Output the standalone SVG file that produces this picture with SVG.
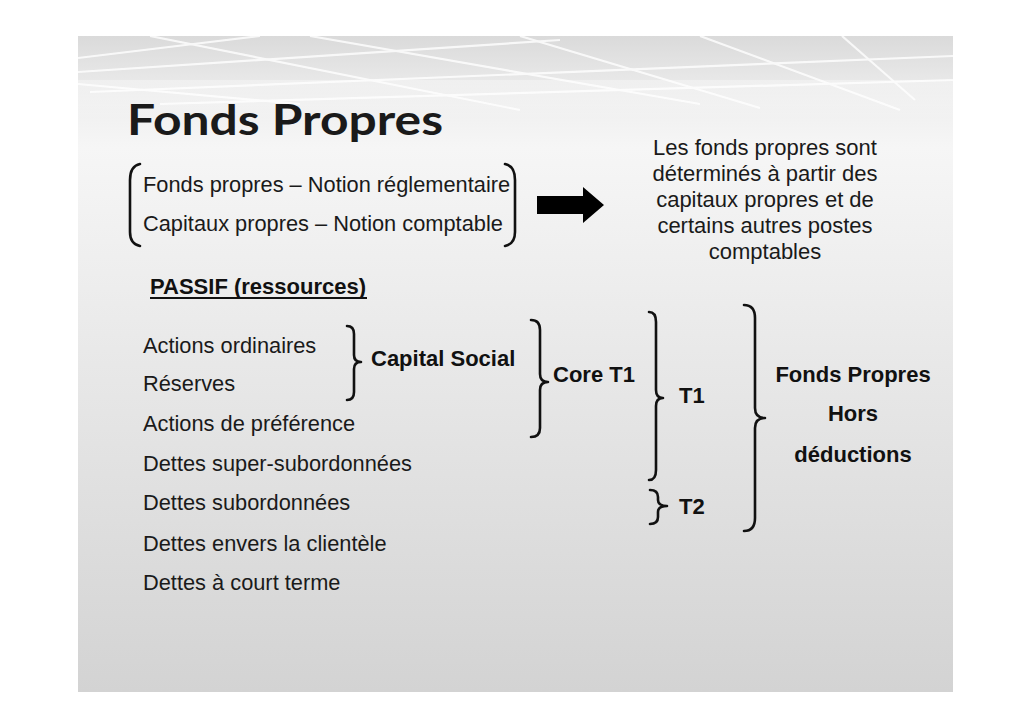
<svg xmlns="http://www.w3.org/2000/svg" width="1030" height="728" viewBox="0 0 1030 728">
<defs>
<linearGradient id="bg" x1="0" y1="0" x2="0" y2="1">
<stop offset="0" stop-color="#dadada"/>
<stop offset="0.1" stop-color="#efefef"/>
<stop offset="0.17" stop-color="#f6f6f6"/>
<stop offset="1" stop-color="#d3d3d3"/>
</linearGradient>
<linearGradient id="fade" x1="0" y1="0" x2="0" y2="1">
<stop offset="0" stop-color="#fff" stop-opacity="0.95"/>
<stop offset="1" stop-color="#fff" stop-opacity="0"/>
</linearGradient>
<clipPath id="topclip"><rect x="78" y="36" width="875" height="80"/></clipPath>
<style>
.t{font-family:"Liberation Sans",Arial,sans-serif;font-size:21.8px;fill:#1a1a1a}
.p{font-family:"Liberation Sans",Arial,sans-serif;font-size:22px;fill:#1a1a1a}
.b{font-family:"Liberation Sans",Arial,sans-serif;font-size:22px;font-weight:bold;fill:#111}
.br{fill:none;stroke:#111;stroke-width:2.6;stroke-linecap:round;stroke-linejoin:round}
.deco{stroke:#fff;stroke-width:2.2;fill:none}
</style>
</defs>
<rect width="1030" height="728" fill="#fff"/>
<rect x="78" y="36" width="875" height="656" fill="url(#bg)"/>
<g opacity="0.8" class="deco" clip-path="url(#topclip)">
<path d="M78 58 L260 36"/>
<path d="M78 72 L560 40"/>
<path d="M90 92 L953 56"/>
<path d="M160 104 L953 80"/>
<path d="M150 36 L520 110"/>
<path d="M310 36 L700 104"/>
<path d="M520 36 L760 108"/>
<path d="M700 36 L900 110"/>
<path d="M842 36 L915 100"/>
<path d="M78 84 L300 104"/>
</g>
<rect x="78" y="80" width="875" height="40" fill="url(#fade)" opacity="0.35"/>

<g id="title"><text x="127" y="135" font-family="Lato,'Open Sans',sans-serif" font-weight="bold" font-size="42" fill="#1a1a1a" textLength="316" lengthAdjust="spacingAndGlyphs">Fonds Propres</text></g>

<g id="notions">
<path class="br" d="M140 164 Q130 166 130 180 L130 232 Q130 244 140 246"/>
<path class="br" d="M505 164 Q515 166 515 180 L515 232 Q515 244 505 246"/>
<text class="t" x="143" y="192">Fonds propres – Notion réglementaire</text>
<text class="t" x="143" y="231">Capitaux propres – Notion comptable</text>
</g>

<g id="arrow"><path d="M537 196 L583 196 L583 187 L604 205 L583 223 L583 214 L537 214 Z" fill="#000"/></g>

<g id="explication" text-anchor="middle">
<text class="p" x="765" y="155">Les fonds propres sont</text>
<text class="p" x="765" y="181">déterminés à partir des</text>
<text class="p" x="765" y="207">capitaux propres et de</text>
<text class="p" x="765" y="233">certains autres postes</text>
<text class="p" x="765" y="259">comptables</text>
</g>

<g id="passif"><text class="b" x="150" y="294">PASSIF (ressources)</text>
<line x1="150" y1="298" x2="367" y2="298" stroke="#111" stroke-width="2"/></g>

<g id="liste">
<text class="t" x="143" y="353">Actions ordinaires</text>
<text class="t" x="143" y="391">Réserves</text>
<text class="t" x="143" y="431">Actions de préférence</text>
<text class="t" x="143" y="471">Dettes super-subordonnées</text>
<text class="t" x="143" y="510">Dettes subordonnées</text>
<text class="t" x="143" y="551">Dettes envers la clientèle</text>
<text class="t" x="143" y="590">Dettes à court terme</text>
</g>

<g id="connectors">
<path class="br" d="M347 326 Q354 326 354 334 L354 355 Q354 362 361 362 Q354 362 354 369 L354 392 Q354 400 347 400"/>
<path class="br" d="M531 320 Q540 320 540 330 L540 374 Q540 382 548 382 Q540 382 540 390 L540 428 Q540 437 531 437"/>
<path class="br" d="M649 312 Q656 312 656 322 L656 390 Q656 398 663 398 Q656 398 656 406 L656 470 Q656 480 649 480"/>
<path class="br" d="M650 490 Q658 490 658 497 L658 500 Q658 506 667 506 Q658 506 658 512 L658 517 Q658 524 650 524"/>
<path class="br" d="M744 305 Q755 305 755 318 L755 408 Q755 418 765 418 Q755 418 755 428 L755 518 Q755 531 744 531"/>
</g>

<g id="capital"><text class="b" x="371" y="366">Capital Social</text></g>
<g id="core"><text class="b" x="553" y="382">Core T1</text></g>
<g id="t1"><text class="b" x="679" y="403">T1</text></g>
<g id="t2"><text class="b" x="679" y="514">T2</text></g>
<g id="fp" text-anchor="middle">
<text class="b" x="853" y="382">Fonds Propres</text>
<text class="b" x="853" y="421">Hors</text>
<text class="b" x="853" y="462">déductions</text>
</g>
</svg>
